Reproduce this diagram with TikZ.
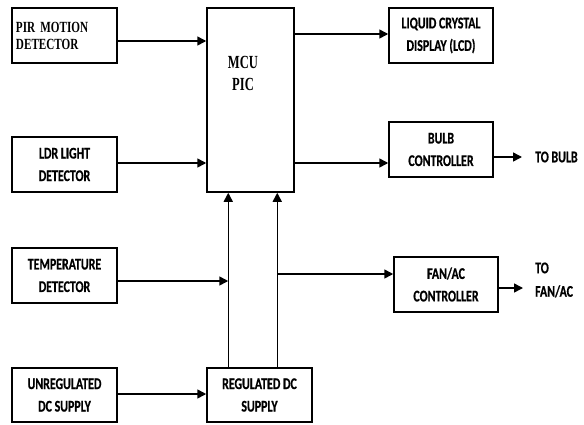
\documentclass[tikz,border=0pt]{standalone}
\usepackage{fontspec}
\usetikzlibrary{arrows.meta}
\newfontfamily\calfont[FakeStretch=0.73,FakeBold=0.6,BoldFont={Carlito Bold}]{Carlito}
\newfontfamily\tmsfont[FakeStretch=0.72,BoldFont={Liberation Serif Bold}]{Liberation Serif}
\newfontfamily\mcufont[FakeStretch=0.68,BoldFont={Liberation Serif Bold}]{Liberation Serif}
\begin{document}
\begin{tikzpicture}[x=1pt,y=-1pt,
  box/.style={draw, line width=1.5pt, inner sep=0pt, align=center,
    font=\fontsize{16.3}{22.5}\selectfont\calfont\bfseries},
  tall/.style={minimum width=105pt, minimum height=55pt},
  arr/.style={line width=1.5pt, -{Triangle[length=9pt,width=9pt]}},
  lbl/.style={inner sep=0pt, align=left, anchor=west,
    font=\fontsize{16.3}{23.5}\selectfont\calfont\bfseries}]
\useasboundingbox (0,0) rectangle (584,424);
% left column
\node[box, tall, text width=97pt, align=left, inner xsep=4pt,
  font=\fontsize{15.5}{17}\selectfont\tmsfont\bfseries] (pir) at (64.5,35.5) {PIR MOTION\\DETECTOR};
\node[box, tall] (ldr) at (64.5,164.5) {LDR LIGHT\\DETECTOR};
\node[box, tall] (temp) at (64.5,275.5) {TEMPERATURE\\DETECTOR};
\node[box, tall, minimum height=54pt] (unreg) at (64.5,395) {UNREGULATED\\DC SUPPLY};
% MCU
\node[box, minimum width=87pt, minimum height=184pt] (mcu) at (250.5,100) {};
\node[inner sep=0pt, align=center, font=\fontsize{18.5}{22}\selectfont\mcufont\bfseries] (mcutxt) at (243,73) {MCU\\PIC};
% regulated
\node[box, minimum width=105pt, minimum height=54pt] (reg) at (259.5,395) {REGULATED DC\\SUPPLY};
% right column
\node[box, minimum width=104pt, minimum height=55pt] (lcd) at (441,35.5) {LIQUID CRYSTAL\\DISPLAY (LCD)};
\node[box, minimum width=104pt, minimum height=55pt] (bulb) at (441,149.5) {BULB\\CONTROLLER};
\node[box, minimum width=104pt, minimum height=55pt] (fan) at (446,284.5) {FAN/AC\\CONTROLLER};
% outputs
\node[lbl] (tobulb) at (535,157) {TO BULB};
\node[lbl] (tofan) at (535,280) {TO\\FAN/AC};
\coordinate (bulbend) at (522,157);
\coordinate (fanend) at (523,288);
% coordinates for bus lines
\coordinate (v1b) at ([xshift=22pt]reg.north west);
\coordinate (v1t) at ([xshift=22pt]mcu.south west);
\coordinate (v2b) at ([xshift=71pt]reg.north west);
\coordinate (v2t) at ([xshift=71pt]mcu.south west);
\coordinate (br) at (v2b |- 0,274);
% connectors
\draw[arr] ([yshift=-5.5pt]pir.east) -- ([yshift=-5.5pt]pir.east -| mcu.west);
\draw[arr] ([yshift=1.5pt]ldr.east) -- ([yshift=1.5pt]ldr.east -| mcu.west);
\draw[arr] ([yshift=-5.5pt]temp.east) -- ([yshift=-5.5pt]temp.east -| v1b);
\draw[arr] ([yshift=1pt]unreg.east) -- ([yshift=1pt]unreg.east -| reg.west);
\draw[arr] (v1b) -- (v1t);
\draw[arr] (v2b) -- (v2t);
\draw[arr] ([yshift=1.5pt]lcd.west -| mcu.east) -- ([yshift=1.5pt]lcd.west);
\draw[arr] ([yshift=-13.5pt]bulb.west -| mcu.east) -- ([yshift=-13.5pt]bulb.west);
\draw[arr] (br) -- (br -| fan.west);
\draw[arr] (bulbend -| bulb.east) -- (bulbend);
\draw[arr] (fanend -| fan.east) -- (fanend);
\end{tikzpicture}
\end{document}
